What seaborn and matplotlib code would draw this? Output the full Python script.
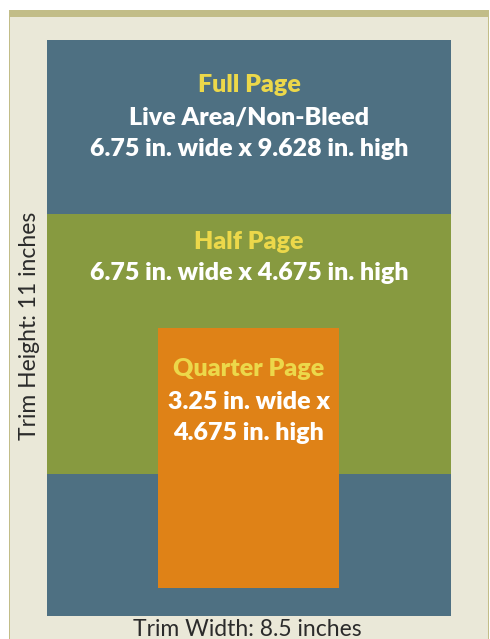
import matplotlib
matplotlib.use("Agg")
import matplotlib.pyplot as plt
import seaborn as sns

sns.set_theme(style="white")
plt.rcParams['font.family'] = ['Lato', 'DejaVu Sans']

# Page ad sizes (labels)
ad_names = ["Full Page", "Half Page", "Quarter Page"]
ad_desc = [["Live Area/Non-Bleed", "6.75 in. wide x 9.628 in. high"],
           ["6.75 in. wide x 4.675 in. high"],
           ["3.25 in. wide x", "4.675 in. high"]]
trim_width_label = "Trim Width: 8.5 inches"
trim_height_label = "Trim Height: 11 inches"

# Box extents in picture units (left, right, top, bottom)
box_left = [47, 47, 158]
box_right = [451, 451, 339]
box_top = [40, 214, 328]
box_bottom = [616, 474, 588]
box_colors = ["#4e7082", "#879a40", "#df8217"]

fig = plt.figure(figsize=(4.9, 6.39), dpi=100)
fig.patch.set_facecolor("white")
ax = fig.add_axes([0, 0, 1, 1])
ax.set_xlim(0, 490)
ax.set_ylim(639, 0)
ax.axis("off")

# background panel and border
ax.bar(x=248.5, width=480, bottom=10, height=640, color="#c2bd88", align="center", linewidth=0)
ax.bar(x=248.5, width=478, bottom=17, height=640, color="#eae8d8", align="center", linewidth=0)

for l, r, t, b, c in zip(box_left, box_right, box_top, box_bottom, box_colors):
    ax.bar(x=(l + r) / 2, width=r - l, bottom=t, height=b - t, color=c, linewidth=0)

title_y = [85, 242, 369]
line_gap = [32, 31, 33]
for i, (name, desc) in enumerate(zip(ad_names, ad_desc)):
    cx = (box_left[i] + box_right[i]) / 2
    ax.text(cx, title_y[i], name, color="#ecd84a", fontsize=18, fontweight="heavy",
            ha="center", va="center")
    for j, d in enumerate(desc):
        ax.text(cx, title_y[i] + (j + 1) * line_gap[i] - (2 if i == 2 and j == 1 else 0), d,
                color="white", fontsize=18, fontweight="heavy", ha="center", va="center")

ax.text(247, 629, trim_width_label, color="#2b2b2b", fontsize=16.5, ha="center", va="center")
ax.text(30, 326, trim_height_label, color="#2b2b2b", fontsize=16.5, ha="center", va="center",
        rotation=90)

fig.savefig("out.png", dpi=100, facecolor="white")
